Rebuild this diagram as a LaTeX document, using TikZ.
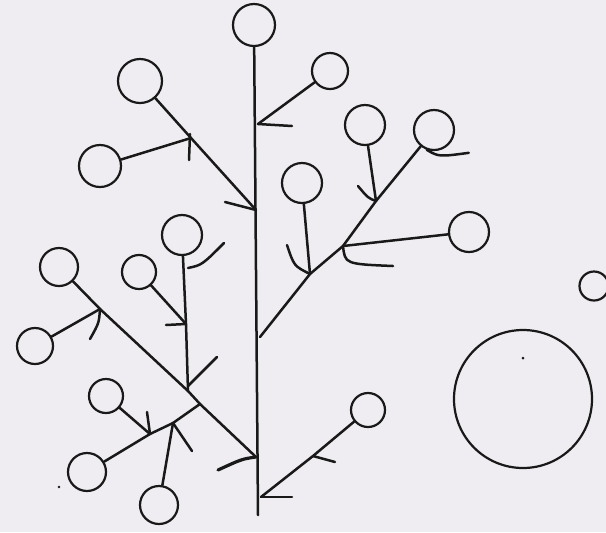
\documentclass[tikz,border=0pt]{standalone}
\usetikzlibrary{calc}
\definecolor{paper}{RGB}{239,237,241}
\definecolor{ink}{RGB}{25,25,25}
\begin{document}
\begin{tikzpicture}[x=0.5pt,y=-0.5pt,
  ball/.style={circle,draw=ink,inner sep=0pt,line width=1.1pt},
  stem/.style={draw=ink,line width=1.25pt,line cap=round,line join=round},
  barb/.style={draw=ink,line width=1.25pt,line cap=round}]
\fill[paper] (0,0) rectangle (606,532);
\useasboundingbox (0,0) rectangle (606,532);
% circles
\node[ball,minimum size=21pt] (c1) at (254,25) {};
\node[ball,minimum size=22pt] (c2) at (140,81) {};
\node[ball,minimum size=21pt] (c3) at (100,166) {};
\node[ball,minimum size=20pt] (c4) at (182,235) {};
\node[ball,minimum size=18pt] (c5) at (330,71) {};
\node[ball,minimum size=20pt] (c6) at (365,125) {};
\node[ball,minimum size=20pt] (c7) at (434,130) {};
\node[ball,minimum size=20pt] (c8) at (302,183) {};
\node[ball,minimum size=20pt] (c9) at (469,232) {};
\node[ball,minimum size=19pt] (c10) at (59,267) {};
\node[ball,minimum size=17pt] (c11) at (139,272) {};
\node[ball,minimum size=18pt] (c12) at (35,346) {};
\node[ball,minimum size=17pt] (c13) at (106,396) {};
\node[ball,minimum size=19pt] (c14) at (87,472) {};
\node[ball,minimum size=19pt] (c15) at (159,505) {};
\node[ball,minimum size=17pt] (c16) at (368,410) {};
\node[ball,minimum size=69pt] (big) at (523,399) {};
\node[ball,minimum size=14.5pt] (c18) at (594,286) {};
% junctions
\coordinate (tb) at (258,515);
\coordinate (j2) at (256,210);
\coordinate (j3) at (191,138);
\coordinate (j5) at (258,124);
\coordinate (j7) at (260,337);
\coordinate (j8) at (310,274);
\coordinate (j9) at (343,246);
\coordinate (j6) at (376,201);
\coordinate (j10) at (256,457);
\coordinate (j12) at (100,309);
\coordinate (j4) at (188,391);
\coordinate (j14) at (200,404);
\coordinate (j11) at (186,324);
\coordinate (jt) at (188,268);
\coordinate (j13) at (150,434);
\coordinate (j15) at (173,423);
\coordinate (j16) at (261,497);
\coordinate (m16) at (313,456);
% stems
\draw[stem] (c1) -- (tb);
\draw[stem] (c2) -- (j3) -- (j2);
\draw[stem] (c3) -- (j3);
\draw[stem] (c5) -- (j5);
\draw[stem] (j7) -- (j8) -- (j9) -- (j6) -- (c7);
\draw[stem] (c6) -- (j6);
\draw[stem] (c8) -- (j8);
\draw[stem] (c9) -- (j9);
\draw[stem] (c10) -- (j12) -- (j4) -- (j14) -- (j10);
\draw[stem] (c12) -- (j12);
\draw[stem] (c4) -- (j11) -- (j4);
\draw[stem] (c11) -- (j11);
\draw[stem] (c14) -- (j13) -- (j15) -- (j14);
\draw[stem] (c13) -- (j13);
\draw[stem] (c15) -- (j15);
\draw[stem] (c16) -- (m16) -- (j16);
% barbs
\draw[barb] (j2) -- ++(-31,-8);
\draw[barb] (j3) ++(-1,-4) -- ++(-1,26);
\draw[barb] (j5) -- ++(34,2);
\draw[barb] (j6) .. controls ++(-8,-3) .. ++(-18,-15);
\draw[barb] (c7.250) .. controls ++(12,7) .. ++(42,3);
\draw[barb] (j9) .. controls ++(2,18) .. ++(50,20);
\draw[barb] (j8) .. controls ++(-16,-8) .. ++(-23,-29);
\draw[barb,line width=1.6pt] (j10) .. controls ++(-14,2) .. ++(-38,13);
\draw[barb] (j12) .. controls ++(-1,14) .. ++(-10,30);
\draw[barb] (j11) -- ++(-20,1);
\draw[barb] (jt) .. controls ++(14,-3) .. ++(36,-25);
\draw[barb] (j4) ++(0,-5) -- ++(29,-29);
\draw[barb] (j13) -- ++(-3,-22);
\draw[barb] (j15) -- ++(19,28);
\draw[barb] (j16) -- ++(31,0);
\draw[barb] (m16) -- ++(22,6);
% dots
\fill[ink] (523,358) circle (1.5);
\fill[ink] (59,487) circle (1.3);
\end{tikzpicture}
\end{document}
